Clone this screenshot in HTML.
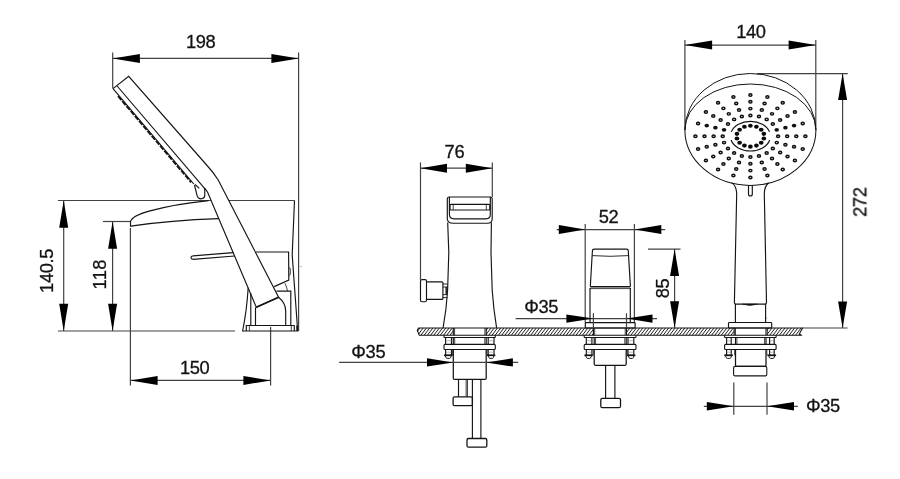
<!DOCTYPE html>
<html><head><meta charset="utf-8"><title>Faucet dimensions</title>
<style>html,body{margin:0;padding:0;background:#fff}svg{display:block}text{font-family:"Liberation Sans",sans-serif;fill:#111;stroke:#111;stroke-width:0.3px}</style>
</head><body>
<svg width="900" height="479" viewBox="0 0 900 479">
<rect width="900" height="479" fill="#fff"/>
<line x1="112.7" y1="52.5" x2="112.7" y2="88.5" stroke="#424242" stroke-width="1.2"/>
<line x1="298.6" y1="52.5" x2="298.6" y2="331" stroke="#424242" stroke-width="1.2"/>
<line x1="112.7" y1="58.4" x2="298.6" y2="58.4" stroke="#424242" stroke-width="1.2"/>
<polygon points="112.7,58.4 139.9,53.9 139.9,62.9" fill="#000"/>
<polygon points="298.6,58.4 271.4,53.9 271.4,62.9" fill="#000"/>
<line x1="58" y1="200.5" x2="211" y2="200.5" stroke="#424242" stroke-width="1.2"/>
<line x1="229" y1="200.5" x2="294.5" y2="200.5" stroke="#424242" stroke-width="1.2"/>
<line x1="58" y1="331" x2="235" y2="331" stroke="#424242" stroke-width="1.2"/>
<line x1="63.7" y1="200.5" x2="63.7" y2="331" stroke="#424242" stroke-width="1.2"/>
<polygon points="63.7,200.5 59.2,227.7 68.2,227.7" fill="#000"/>
<polygon points="63.7,331.0 59.2,303.8 68.2,303.8" fill="#000"/>
<line x1="103" y1="221.5" x2="130.4" y2="221.5" stroke="#424242" stroke-width="1.2"/>
<line x1="112.6" y1="221.5" x2="112.6" y2="331" stroke="#424242" stroke-width="1.2"/>
<polygon points="112.6,221.5 108.1,248.7 117.1,248.7" fill="#000"/>
<polygon points="112.6,331.0 108.1,303.8 117.1,303.8" fill="#000"/>
<line x1="130.4" y1="228" x2="130.4" y2="385.6" stroke="#424242" stroke-width="1.2"/>
<line x1="270.6" y1="327" x2="270.6" y2="385.6" stroke="#424242" stroke-width="1.2"/>
<line x1="130.4" y1="380.4" x2="270.6" y2="380.4" stroke="#424242" stroke-width="1.2"/>
<polygon points="130.4,380.4 157.6,375.9 157.6,384.9" fill="#000"/>
<polygon points="270.6,380.4 243.4,375.9 243.4,384.9" fill="#000"/>
<path d="M113,88.6 L128.7,76.3 L207.5,166 Q213.5,172.5 218.2,180 L278.6,297.2 L256.3,307.3 L207.5,192 Q205.5,189 203.5,187.2 L116.7,85.5" fill="none" stroke="#141414" stroke-width="1.15" />
<path d="M113,88.6 L193.8,184" fill="none" stroke="#141414" stroke-width="1.15" />
<path d="M256.3,307.3 L278.6,297.2" fill="none" stroke="#141414" stroke-width="1.6" />
<path d="M118.1,96.1 L191.1,182.3" fill="none" stroke="#161616" stroke-width="1.9" stroke-dasharray="5.2 1.3"/>
<path d="M194.5,185 L197.1,195.6 Q198,198.9 201.3,198.8 Q204.6,198.6 204.8,195.4 L204.7,188" fill="none" stroke="#141414" stroke-width="1.15" />
<path d="M195,184.3 L199.2,188.4" fill="none" stroke="#141414" stroke-width="1.15" />
<path d="M130.5,226.4 L130.5,221.7 C131.5,217.5 137,214.5 150,210.9 C165,206.8 185,203 208.5,200.6" fill="none" stroke="#141414" stroke-width="1.15" />
<path d="M130.5,226.4 L132.5,225.9 Q170,220.3 218.6,218.6" fill="none" stroke="#141414" stroke-width="1.15" />
<path d="M234.7,256 L193,259.3 Q191,259.2 191,257.6 Q191,256 193,255.9 L233.3,252.6" fill="none" stroke="#141414" stroke-width="1.15" />
<path d="M294.5,200.5 L292.2,255 L297.7,331" fill="none" stroke="#141414" stroke-width="1.15" />
<path d="M256,252 L288.6,252 L288.8,280.1 L274.2,286.6" fill="none" stroke="#141414" stroke-width="1.15" />
<path d="M288.9,267.5 L290.3,268.5 L290.3,274.5 L288.9,275.5" fill="none" stroke="#141414" stroke-width="0.8" />
<path d="M276.5,291.1 L290.8,291.1 L290.8,325.5" fill="none" stroke="#141414" stroke-width="1.15" />
<path d="M285,283.3 Q286.8,287 287.5,291.1" fill="none" stroke="#141414" stroke-width="0.8" />
<path d="M278.6,297.2 Q285.7,303 285.7,311 L285.7,325.5" fill="none" stroke="#141414" stroke-width="1.15" />
<path d="M248.2,287.8 Q246.6,312 242.6,331 L298.4,331" fill="none" stroke="#141414" stroke-width="1.15" />
<path d="M250.8,293.6 L250.8,325.5" fill="none" stroke="#141414" stroke-width="1.15" />
<path d="M255.5,307.3 L255.5,325.5" fill="none" stroke="#141414" stroke-width="1.15" />
<path d="M246.3,331 L246.3,325.5 L294.3,325.5 L294.3,331" fill="none" stroke="#141414" stroke-width="1.15" />
<line x1="249.4" y1="325.5" x2="249.4" y2="331" stroke="#141414" stroke-width="0.8"/>
<line x1="291.3" y1="325.5" x2="291.3" y2="331" stroke="#141414" stroke-width="0.8"/>
<line x1="296.6" y1="325.5" x2="296.6" y2="331" stroke="#141414" stroke-width="0.8"/>
<circle cx="301" cy="266.6" r="0.6" fill="#777"/>
<line x1="420.5" y1="162.4" x2="420.5" y2="279.7" stroke="#424242" stroke-width="1.2"/>
<line x1="492.3" y1="162.4" x2="492.3" y2="197" stroke="#424242" stroke-width="1.2"/>
<line x1="420.5" y1="168.2" x2="492.3" y2="168.2" stroke="#424242" stroke-width="1.2"/>
<polygon points="420.5,168.2 447.0,163.7 447.0,172.7" fill="#000"/>
<polygon points="492.3,168.2 465.8,163.7 465.8,172.7" fill="#000"/>
<path d="M447.3,219 L447.3,199 Q447.3,197 449.3,197 L490.2,197 Q492.2,197 492.2,199 L492.2,219 Q492,223.2 487.6,223.2 L453.2,223.2 Q447.6,223.2 447.3,219" fill="none" stroke="#141414" stroke-width="1.15" />
<path d="M449.4,197 L449.4,214.5 Q449.6,218.8 454,218.8 L486,218.8 Q490.2,218.8 490.3,214.5 L490.3,197" fill="none" stroke="#141414" stroke-width="1.15" />
<rect x="450" y="204.4" width="39.8" height="5.6" rx="1" fill="none" stroke="#141414" stroke-width="1.15"/>
<line x1="453.2" y1="204.4" x2="453.2" y2="210" stroke="#141414" stroke-width="0.8"/>
<line x1="486.3" y1="204.4" x2="486.3" y2="210" stroke="#141414" stroke-width="0.8"/>
<path d="M447.7,222.5 L448.8,252.6 L447.6,290.2 Q446.6,308 443.1,327.9" fill="none" stroke="#141414" stroke-width="1.15" />
<path d="M491.4,222.5 L491,252.6 L492.2,290.2 Q493.4,308 496.6,327.9" fill="none" stroke="#141414" stroke-width="1.15" />
<rect x="420.5" y="279.6" width="6.0" height="22.1" rx="1.5" fill="none" stroke="#141414" stroke-width="1.15"/>
<path d="M426.5,281.8 L441.9,281.8 Q442.9,281.8 442.9,282.8 L442.9,298.4 Q442.9,299.4 441.9,299.4 L426.5,299.4" fill="none" stroke="#141414" stroke-width="1.15" />
<path d="M442.9,284 L447.5,284 M442.9,297.6 L447.5,297.6 M442.9,287 L447.5,287 M442.9,294.6 L447.5,294.6" fill="none" stroke="#141414" stroke-width="0.9" />
<line x1="446.2" y1="287" x2="446.2" y2="294.6" stroke="#141414" stroke-width="1.4"/>
<clipPath id="dk"><path d="M418.6,328.0 L453.3,328.0 L453.3,335.25 L419.3,335.25 L417.3,330.4 Z M486.2,328.0 L593.4,328.0 L593.4,335.25 L486.2,335.25 Z M626.5,328.0 L734.2,328.0 L734.2,335.25 L626.5,335.25 Z M767.1,328.0 L802.6,328.0 L799.5,333.6 L801.2,335.25 L767.1,335.25 Z"/></clipPath>
<g clip-path="url(#dk)"><path d="M410.82,335.75 L417.09,327.5 M414.05,335.75 L420.32,327.5 M417.28,335.75 L423.55,327.5 M420.51,335.75 L426.78,327.5 M423.74,335.75 L430.01,327.5 M426.97,335.75 L433.24,327.5 M430.20,335.75 L436.47,327.5 M433.43,335.75 L439.70,327.5 M436.66,335.75 L442.93,327.5 M439.89,335.75 L446.16,327.5 M443.12,335.75 L449.39,327.5 M446.35,335.75 L452.62,327.5 M449.58,335.75 L455.85,327.5 M481.88,335.75 L488.15,327.5 M485.11,335.75 L491.38,327.5 M488.34,335.75 L494.61,327.5 M491.57,335.75 L497.84,327.5 M494.80,335.75 L501.07,327.5 M498.03,335.75 L504.30,327.5 M501.26,335.75 L507.53,327.5 M504.49,335.75 L510.76,327.5 M507.72,335.75 L513.99,327.5 M510.95,335.75 L517.22,327.5 M514.18,335.75 L520.45,327.5 M517.41,335.75 L523.68,327.5 M520.64,335.75 L526.91,327.5 M523.87,335.75 L530.14,327.5 M527.10,335.75 L533.37,327.5 M530.33,335.75 L536.60,327.5 M533.56,335.75 L539.83,327.5 M536.79,335.75 L543.06,327.5 M540.02,335.75 L546.29,327.5 M543.25,335.75 L549.52,327.5 M546.48,335.75 L552.75,327.5 M549.71,335.75 L555.98,327.5 M552.94,335.75 L559.21,327.5 M556.17,335.75 L562.44,327.5 M559.40,335.75 L565.67,327.5 M562.63,335.75 L568.90,327.5 M565.86,335.75 L572.13,327.5 M569.09,335.75 L575.36,327.5 M572.32,335.75 L578.59,327.5 M575.55,335.75 L581.82,327.5 M578.78,335.75 L585.05,327.5 M582.01,335.75 L588.28,327.5 M585.24,335.75 L591.51,327.5 M588.47,335.75 L594.74,327.5 M591.70,335.75 L597.97,327.5 M624.00,335.75 L630.27,327.5 M627.23,335.75 L633.50,327.5 M630.46,335.75 L636.73,327.5 M633.69,335.75 L639.96,327.5 M636.92,335.75 L643.19,327.5 M640.15,335.75 L646.42,327.5 M643.38,335.75 L649.65,327.5 M646.61,335.75 L652.88,327.5 M649.84,335.75 L656.11,327.5 M653.07,335.75 L659.34,327.5 M656.30,335.75 L662.57,327.5 M659.53,335.75 L665.80,327.5 M662.76,335.75 L669.03,327.5 M665.99,335.75 L672.26,327.5 M669.22,335.75 L675.49,327.5 M672.45,335.75 L678.72,327.5 M675.68,335.75 L681.95,327.5 M678.91,335.75 L685.18,327.5 M682.14,335.75 L688.41,327.5 M685.37,335.75 L691.64,327.5 M688.60,335.75 L694.87,327.5 M691.83,335.75 L698.10,327.5 M695.06,335.75 L701.33,327.5 M698.29,335.75 L704.56,327.5 M701.52,335.75 L707.79,327.5 M704.75,335.75 L711.02,327.5 M707.98,335.75 L714.25,327.5 M711.21,335.75 L717.48,327.5 M714.44,335.75 L720.71,327.5 M717.67,335.75 L723.94,327.5 M720.90,335.75 L727.17,327.5 M724.13,335.75 L730.40,327.5 M727.36,335.75 L733.63,327.5 M730.59,335.75 L736.86,327.5 M762.89,335.75 L769.16,327.5 M766.12,335.75 L772.39,327.5 M769.35,335.75 L775.62,327.5 M772.58,335.75 L778.85,327.5 M775.81,335.75 L782.08,327.5 M779.04,335.75 L785.31,327.5 M782.27,335.75 L788.54,327.5 M785.50,335.75 L791.77,327.5 M788.73,335.75 L795.00,327.5 M791.96,335.75 L798.23,327.5 M795.19,335.75 L801.46,327.5 M798.42,335.75 L804.69,327.5 M801.65,335.75 L807.92,327.5 M804.88,335.75 L811.15,327.5 M808.11,335.75 L814.38,327.5 M811.34,335.75 L817.61,327.5" stroke="#1a1a1a" stroke-width="0.98" fill="none"/></g>
<path d="M419.3,335.25 L417.3,330.4 L418.6,328.0 L802.6,328.0 L799.5,333.6 L801.2,335.25 Z" fill="none" stroke="#141414" stroke-width="1.1" />
<line x1="802.6" y1="328.0" x2="847.6" y2="328.0" stroke="#424242" stroke-width="1.2"/>
<line x1="453.3" y1="328.0" x2="453.3" y2="335.25" stroke="#141414" stroke-width="1.15"/>
<line x1="486.2" y1="328.0" x2="486.2" y2="335.25" stroke="#141414" stroke-width="1.15"/>
<line x1="454.6" y1="328.0" x2="454.6" y2="335.25" stroke="#141414" stroke-width="0.8"/>
<line x1="484.9" y1="328.0" x2="484.9" y2="335.25" stroke="#141414" stroke-width="0.8"/>
<path d="M444,335.25 L444,336.9 Q444,337.5 444.6,337.5 L494.7,337.5 Q495.3,337.5 495.3,336.9 L495.3,335.25" fill="none" stroke="#141414" stroke-width="1.1" />
<line x1="445.6" y1="337.5" x2="445.6" y2="344.4" stroke="#141414" stroke-width="1.15"/>
<line x1="451.5" y1="337.5" x2="451.5" y2="344.4" stroke="#141414" stroke-width="1.15"/>
<line x1="445.6" y1="349.5" x2="445.6" y2="355.3" stroke="#141414" stroke-width="1.15"/>
<line x1="451.5" y1="349.5" x2="451.5" y2="355.3" stroke="#141414" stroke-width="1.15"/>
<line x1="445.6" y1="340.8" x2="451.5" y2="340.8" stroke="#777" stroke-width="0.5"/>
<line x1="445.6" y1="352.2" x2="451.5" y2="352.2" stroke="#777" stroke-width="0.5"/>
<line x1="488.2" y1="337.5" x2="488.2" y2="344.4" stroke="#141414" stroke-width="1.15"/>
<line x1="494" y1="337.5" x2="494" y2="344.4" stroke="#141414" stroke-width="1.15"/>
<line x1="488.2" y1="349.5" x2="488.2" y2="355.3" stroke="#141414" stroke-width="1.15"/>
<line x1="494" y1="349.5" x2="494" y2="355.3" stroke="#141414" stroke-width="1.15"/>
<line x1="488.2" y1="340.8" x2="494" y2="340.8" stroke="#777" stroke-width="0.5"/>
<line x1="488.2" y1="352.2" x2="494" y2="352.2" stroke="#777" stroke-width="0.5"/>
<rect x="444" y="344.4" width="51.3" height="5.1" rx="1.0" fill="none" stroke="#141414" stroke-width="1.1"/>
<path d="M445.3,355.3 Q445.6,358.40000000000003 447.1,358.40000000000003 L449.5,358.40000000000003 Q451.0,358.40000000000003 451.3,355.3 Z" fill="none" stroke="#141414" stroke-width="1.0" fill="#a8a8a8"/>
<line x1="444" y1="355.3" x2="452.6" y2="355.3" stroke="#141414" stroke-width="1.7"/>
<path d="M488.3,355.3 Q488.6,358.40000000000003 489.95,358.40000000000003 L492.34999999999997,358.40000000000003 Q493.7,358.40000000000003 494.0,355.3 Z" fill="none" stroke="#141414" stroke-width="1.0" fill="#a8a8a8"/>
<line x1="487" y1="355.3" x2="495.3" y2="355.3" stroke="#141414" stroke-width="1.7"/>
<line x1="453.3" y1="337.5" x2="453.3" y2="344.4" stroke="#141414" stroke-width="1.15"/>
<line x1="486.2" y1="337.5" x2="486.2" y2="344.4" stroke="#141414" stroke-width="1.15"/>
<line x1="454.7" y1="337.5" x2="454.7" y2="344.4" stroke="#141414" stroke-width="0.8"/>
<line x1="484.8" y1="337.5" x2="484.8" y2="344.4" stroke="#141414" stroke-width="0.8"/>
<line x1="452.40000000000003" y1="349.5" x2="452.40000000000003" y2="355.3" stroke="#141414" stroke-width="0.7"/>
<line x1="487.09999999999997" y1="349.5" x2="487.09999999999997" y2="355.3" stroke="#141414" stroke-width="0.7"/>
<path d="M453.3,349.5 L453.3,378.2 Q453.3,379.4 454.5,379.4 L485.0,379.4 Q486.2,379.4 486.2,378.2 L486.2,349.5" fill="none" stroke="#141414" stroke-width="1.25" />
<line x1="339.1" y1="362.4" x2="518.2" y2="362.4" stroke="#424242" stroke-width="1.2"/>
<polygon points="453.3,362.4 427.0,358.2 427.0,366.6" fill="#000"/>
<polygon points="486.2,362.4 512.9,358.2 512.9,366.6" fill="#000"/>
<line x1="458.5" y1="379.4" x2="458.5" y2="396.8" stroke="#141414" stroke-width="1.15"/>
<line x1="467.2" y1="379.4" x2="467.2" y2="396.8" stroke="#141414" stroke-width="1.15"/>
<line x1="466" y1="379.4" x2="466" y2="396.8" stroke="#141414" stroke-width="0.6"/>
<rect x="453.1" y="396.8" width="19.3" height="8.9" rx="1.5" fill="none" stroke="#141414" stroke-width="1.3"/>
<line x1="472.4" y1="379.4" x2="472.4" y2="438.5" stroke="#141414" stroke-width="1.15"/>
<line x1="480.9" y1="379.4" x2="480.9" y2="438.5" stroke="#141414" stroke-width="1.15"/>
<rect x="467" y="438.5" width="19.8" height="8.7" rx="1.5" fill="none" stroke="#141414" stroke-width="1.3"/>
<line x1="585.2" y1="224" x2="585.2" y2="322.6" stroke="#424242" stroke-width="1.2"/>
<line x1="634.4" y1="224" x2="634.4" y2="322.6" stroke="#424242" stroke-width="1.2"/>
<line x1="556.7" y1="229.6" x2="665.2" y2="229.6" stroke="#424242" stroke-width="1.2"/>
<polygon points="585.2,229.6 558.8,225.1 558.8,234.1" fill="#000"/>
<polygon points="634.4,229.6 661.3,225.1 661.3,234.1" fill="#000"/>
<path d="M590.3,286.6 L592.4,251 Q592.4,249.1 594.4,249.1 L626.3,249.1 Q628.3,249.1 628.3,251 L630.4,286.6" fill="none" stroke="#141414" stroke-width="1.15" />
<path d="M592.2,255.6 Q610,257 628.5,255.6" fill="none" stroke="#141414" stroke-width="0.9" />
<line x1="590.3" y1="286.8" x2="630.4" y2="286.8" stroke="#141414" stroke-width="1.6"/>
<path d="M590,288 L590,322.6 M630.3,288 L630.3,322.6" fill="none" stroke="#141414" stroke-width="1.15" />
<line x1="590" y1="288.6" x2="630.3" y2="288.6" stroke="#141414" stroke-width="0.8"/>
<rect x="585.3" y="322.6" width="49.8" height="5.4" rx="0.5" fill="none" stroke="#141414" stroke-width="1.15"/>
<line x1="593.4" y1="313.2" x2="593.4" y2="328.0" stroke="#424242" stroke-width="1.2"/>
<line x1="626.5" y1="313.2" x2="626.5" y2="328.0" stroke="#424242" stroke-width="1.2"/>
<line x1="515.6" y1="318.6" x2="657" y2="318.6" stroke="#424242" stroke-width="1.2"/>
<polygon points="593.4,318.6 566.4,314.4 566.4,322.8" fill="#000"/>
<polygon points="626.5,318.6 652.5,314.4 652.5,322.8" fill="#000"/>
<line x1="593.4" y1="328.0" x2="593.4" y2="335.25" stroke="#141414" stroke-width="1.15"/>
<line x1="626.5" y1="328.0" x2="626.5" y2="335.25" stroke="#141414" stroke-width="1.15"/>
<line x1="594.6999999999999" y1="328.0" x2="594.6999999999999" y2="335.25" stroke="#141414" stroke-width="0.8"/>
<line x1="625.2" y1="328.0" x2="625.2" y2="335.25" stroke="#141414" stroke-width="0.8"/>
<path d="M584.2,335.25 L584.2,336.9 Q584.2,337.5 584.8000000000001,337.5 L635.4,337.5 Q636,337.5 636,336.9 L636,335.25" fill="none" stroke="#141414" stroke-width="1.1" />
<line x1="586.3" y1="337.5" x2="586.3" y2="344.4" stroke="#141414" stroke-width="1.15"/>
<line x1="591.9" y1="337.5" x2="591.9" y2="344.4" stroke="#141414" stroke-width="1.15"/>
<line x1="586.3" y1="349.5" x2="586.3" y2="355.3" stroke="#141414" stroke-width="1.15"/>
<line x1="591.9" y1="349.5" x2="591.9" y2="355.3" stroke="#141414" stroke-width="1.15"/>
<line x1="586.3" y1="340.8" x2="591.9" y2="340.8" stroke="#777" stroke-width="0.5"/>
<line x1="586.3" y1="352.2" x2="591.9" y2="352.2" stroke="#777" stroke-width="0.5"/>
<line x1="628" y1="337.5" x2="628" y2="344.4" stroke="#141414" stroke-width="1.15"/>
<line x1="633.8" y1="337.5" x2="633.8" y2="344.4" stroke="#141414" stroke-width="1.15"/>
<line x1="628" y1="349.5" x2="628" y2="355.3" stroke="#141414" stroke-width="1.15"/>
<line x1="633.8" y1="349.5" x2="633.8" y2="355.3" stroke="#141414" stroke-width="1.15"/>
<line x1="628" y1="340.8" x2="633.8" y2="340.8" stroke="#777" stroke-width="0.5"/>
<line x1="628" y1="352.2" x2="633.8" y2="352.2" stroke="#777" stroke-width="0.5"/>
<rect x="584.2" y="344.4" width="51.8" height="5.1" rx="1.0" fill="none" stroke="#141414" stroke-width="1.1"/>
<path d="M585.6999999999999,355.3 Q586.0,358.40000000000003 587.3999999999999,358.40000000000003 L589.8,358.40000000000003 Q591.1999999999999,358.40000000000003 591.5,355.3 Z" fill="none" stroke="#141414" stroke-width="1.0" fill="#a8a8a8"/>
<line x1="584.4" y1="355.3" x2="592.8" y2="355.3" stroke="#141414" stroke-width="1.7"/>
<path d="M628.3,355.3 Q628.6,358.40000000000003 630.0,358.40000000000003 L632.4000000000001,358.40000000000003 Q633.8,358.40000000000003 634.1,355.3 Z" fill="none" stroke="#141414" stroke-width="1.0" fill="#a8a8a8"/>
<line x1="627" y1="355.3" x2="635.4" y2="355.3" stroke="#141414" stroke-width="1.7"/>
<line x1="594.2" y1="337.5" x2="594.2" y2="344.4" stroke="#141414" stroke-width="1.15"/>
<line x1="626.2" y1="337.5" x2="626.2" y2="344.4" stroke="#141414" stroke-width="1.15"/>
<line x1="595.6" y1="337.5" x2="595.6" y2="344.4" stroke="#141414" stroke-width="0.8"/>
<line x1="624.8000000000001" y1="337.5" x2="624.8000000000001" y2="344.4" stroke="#141414" stroke-width="0.8"/>
<line x1="593.3000000000001" y1="349.5" x2="593.3000000000001" y2="355.3" stroke="#141414" stroke-width="0.7"/>
<line x1="627.1" y1="349.5" x2="627.1" y2="355.3" stroke="#141414" stroke-width="0.7"/>
<path d="M594.2,349.5 L594.2,364.1 Q594.2,365.3 595.4000000000001,365.3 L625.0,365.3 Q626.2,365.3 626.2,364.1 L626.2,349.5" fill="none" stroke="#141414" stroke-width="1.25" />
<line x1="605.6" y1="365.3" x2="605.6" y2="398.3" stroke="#141414" stroke-width="1.15"/>
<line x1="614.9" y1="365.3" x2="614.9" y2="398.3" stroke="#141414" stroke-width="1.15"/>
<rect x="600.8" y="398.3" width="19.7" height="9.4" rx="1.5" fill="none" stroke="#141414" stroke-width="1.3"/>
<line x1="648" y1="249.1" x2="680.5" y2="249.1" stroke="#424242" stroke-width="1.2"/>
<line x1="674.6" y1="249.1" x2="674.6" y2="328.0" stroke="#424242" stroke-width="1.2"/>
<polygon points="674.6,249.1 670.1,275.9 679.1,275.9" fill="#000"/>
<polygon points="674.6,328.0 670.1,301.2 679.1,301.2" fill="#000"/>
<line x1="684.9" y1="40" x2="684.9" y2="130" stroke="#424242" stroke-width="1.2"/>
<line x1="815.8" y1="40" x2="815.8" y2="130" stroke="#424242" stroke-width="1.2"/>
<line x1="684.9" y1="45.1" x2="815.8" y2="45.1" stroke="#424242" stroke-width="1.2"/>
<polygon points="684.9,45.1 712.1,40.6 712.1,49.6" fill="#000"/>
<polygon points="815.8,45.1 788.6,40.6 788.6,49.6" fill="#000"/>
<line x1="757" y1="73.6" x2="847.8" y2="73.6" stroke="#424242" stroke-width="1.2"/>
<line x1="842.6" y1="73.6" x2="842.6" y2="328.0" stroke="#424242" stroke-width="1.2"/>
<polygon points="842.6,73.6 838.1,100.1 847.1,100.1" fill="#000"/>
<polygon points="842.6,328.0 838.1,301.5 847.1,301.5" fill="#000"/>
<path d="M684.9,130.0 A65.5,56.5 0 0 1 815.9,130.0" fill="none" stroke="#141414" stroke-width="1.0" />
<path d="M684.9,130.0 A65.5,46 0 0 1 815.9,130.0" fill="none" stroke="#141414" stroke-width="1.0" />
<path d="M684.9,130.0 A65.5,55.4 0 0 0 815.9,130.0" fill="none" stroke="#141414" stroke-width="1.05" />
<ellipse cx="750.40" cy="115.42" rx="1.55" ry="1.25" fill="#cdcdcd" stroke="#111" stroke-width="1.45"/>
<ellipse cx="750.40" cy="108.60" rx="1.55" ry="1.25" fill="#cdcdcd" stroke="#111" stroke-width="1.45"/>
<ellipse cx="750.40" cy="101.77" rx="1.55" ry="1.25" fill="#cdcdcd" stroke="#111" stroke-width="1.45"/>
<ellipse cx="750.40" cy="94.95" rx="1.55" ry="1.25" fill="#cdcdcd" stroke="#111" stroke-width="1.45"/>
<ellipse cx="741.84" cy="116.44" rx="1.55" ry="1.25" fill="#cdcdcd" stroke="#111" stroke-width="1.45"/>
<ellipse cx="739.03" cy="109.95" rx="1.55" ry="1.25" fill="#cdcdcd" stroke="#111" stroke-width="1.45"/>
<ellipse cx="736.22" cy="103.46" rx="1.55" ry="1.25" fill="#cdcdcd" stroke="#111" stroke-width="1.45"/>
<ellipse cx="733.40" cy="96.97" rx="1.55" ry="1.25" fill="#cdcdcd" stroke="#111" stroke-width="1.45"/>
<ellipse cx="734.12" cy="119.39" rx="1.55" ry="1.25" fill="#cdcdcd" stroke="#111" stroke-width="1.45"/>
<ellipse cx="728.77" cy="113.87" rx="1.55" ry="1.25" fill="#cdcdcd" stroke="#111" stroke-width="1.45"/>
<ellipse cx="723.42" cy="108.35" rx="1.55" ry="1.25" fill="#cdcdcd" stroke="#111" stroke-width="1.45"/>
<ellipse cx="718.07" cy="102.83" rx="1.55" ry="1.25" fill="#cdcdcd" stroke="#111" stroke-width="1.45"/>
<ellipse cx="727.99" cy="123.99" rx="1.55" ry="1.25" fill="#cdcdcd" stroke="#111" stroke-width="1.45"/>
<ellipse cx="720.63" cy="119.98" rx="1.55" ry="1.25" fill="#cdcdcd" stroke="#111" stroke-width="1.45"/>
<ellipse cx="713.27" cy="115.97" rx="1.55" ry="1.25" fill="#cdcdcd" stroke="#111" stroke-width="1.45"/>
<ellipse cx="705.90" cy="111.95" rx="1.55" ry="1.25" fill="#cdcdcd" stroke="#111" stroke-width="1.45"/>
<ellipse cx="724.06" cy="129.78" rx="2.25" ry="1.85" fill="#111"/>
<ellipse cx="715.40" cy="127.67" rx="2.25" ry="1.85" fill="#111"/>
<ellipse cx="706.75" cy="125.56" rx="2.25" ry="1.85" fill="#111"/>
<ellipse cx="698.09" cy="123.45" rx="1.55" ry="1.25" fill="#cdcdcd" stroke="#111" stroke-width="1.45"/>
<ellipse cx="722.70" cy="136.20" rx="1.55" ry="1.25" fill="#cdcdcd" stroke="#111" stroke-width="1.45"/>
<ellipse cx="713.60" cy="136.20" rx="1.55" ry="1.25" fill="#cdcdcd" stroke="#111" stroke-width="1.45"/>
<ellipse cx="704.50" cy="136.20" rx="1.55" ry="1.25" fill="#cdcdcd" stroke="#111" stroke-width="1.45"/>
<ellipse cx="695.40" cy="136.20" rx="1.55" ry="1.25" fill="#cdcdcd" stroke="#111" stroke-width="1.45"/>
<ellipse cx="724.06" cy="142.62" rx="1.55" ry="1.25" fill="#cdcdcd" stroke="#111" stroke-width="1.45"/>
<ellipse cx="715.40" cy="144.73" rx="1.55" ry="1.25" fill="#cdcdcd" stroke="#111" stroke-width="1.45"/>
<ellipse cx="706.75" cy="146.84" rx="1.55" ry="1.25" fill="#cdcdcd" stroke="#111" stroke-width="1.45"/>
<ellipse cx="698.09" cy="148.95" rx="1.55" ry="1.25" fill="#cdcdcd" stroke="#111" stroke-width="1.45"/>
<ellipse cx="727.99" cy="148.41" rx="1.55" ry="1.25" fill="#cdcdcd" stroke="#111" stroke-width="1.45"/>
<ellipse cx="720.63" cy="152.42" rx="1.55" ry="1.25" fill="#cdcdcd" stroke="#111" stroke-width="1.45"/>
<ellipse cx="713.27" cy="156.43" rx="1.55" ry="1.25" fill="#cdcdcd" stroke="#111" stroke-width="1.45"/>
<ellipse cx="705.90" cy="160.45" rx="1.55" ry="1.25" fill="#cdcdcd" stroke="#111" stroke-width="1.45"/>
<ellipse cx="734.12" cy="153.01" rx="1.55" ry="1.25" fill="#cdcdcd" stroke="#111" stroke-width="1.45"/>
<ellipse cx="728.77" cy="158.53" rx="1.55" ry="1.25" fill="#cdcdcd" stroke="#111" stroke-width="1.45"/>
<ellipse cx="723.42" cy="164.05" rx="1.55" ry="1.25" fill="#cdcdcd" stroke="#111" stroke-width="1.45"/>
<ellipse cx="718.07" cy="169.57" rx="1.55" ry="1.25" fill="#cdcdcd" stroke="#111" stroke-width="1.45"/>
<ellipse cx="741.84" cy="155.96" rx="1.55" ry="1.25" fill="#cdcdcd" stroke="#111" stroke-width="1.45"/>
<ellipse cx="739.03" cy="162.45" rx="1.55" ry="1.25" fill="#cdcdcd" stroke="#111" stroke-width="1.45"/>
<ellipse cx="736.22" cy="168.94" rx="1.55" ry="1.25" fill="#cdcdcd" stroke="#111" stroke-width="1.45"/>
<ellipse cx="733.40" cy="175.43" rx="1.55" ry="1.25" fill="#cdcdcd" stroke="#111" stroke-width="1.45"/>
<ellipse cx="750.40" cy="156.97" rx="1.55" ry="1.25" fill="#cdcdcd" stroke="#111" stroke-width="1.45"/>
<ellipse cx="750.40" cy="163.80" rx="1.55" ry="1.25" fill="#cdcdcd" stroke="#111" stroke-width="1.45"/>
<ellipse cx="750.40" cy="170.62" rx="1.55" ry="1.25" fill="#cdcdcd" stroke="#111" stroke-width="1.45"/>
<ellipse cx="750.40" cy="177.45" rx="1.55" ry="1.25" fill="#cdcdcd" stroke="#111" stroke-width="1.45"/>
<ellipse cx="758.96" cy="155.96" rx="1.55" ry="1.25" fill="#cdcdcd" stroke="#111" stroke-width="1.45"/>
<ellipse cx="761.77" cy="162.45" rx="1.55" ry="1.25" fill="#cdcdcd" stroke="#111" stroke-width="1.45"/>
<ellipse cx="764.58" cy="168.94" rx="1.55" ry="1.25" fill="#cdcdcd" stroke="#111" stroke-width="1.45"/>
<ellipse cx="767.40" cy="175.43" rx="1.55" ry="1.25" fill="#cdcdcd" stroke="#111" stroke-width="1.45"/>
<ellipse cx="766.68" cy="153.01" rx="1.55" ry="1.25" fill="#cdcdcd" stroke="#111" stroke-width="1.45"/>
<ellipse cx="772.03" cy="158.53" rx="1.55" ry="1.25" fill="#cdcdcd" stroke="#111" stroke-width="1.45"/>
<ellipse cx="777.38" cy="164.05" rx="1.55" ry="1.25" fill="#cdcdcd" stroke="#111" stroke-width="1.45"/>
<ellipse cx="782.73" cy="169.57" rx="1.55" ry="1.25" fill="#cdcdcd" stroke="#111" stroke-width="1.45"/>
<ellipse cx="772.81" cy="148.41" rx="1.55" ry="1.25" fill="#cdcdcd" stroke="#111" stroke-width="1.45"/>
<ellipse cx="780.17" cy="152.42" rx="1.55" ry="1.25" fill="#cdcdcd" stroke="#111" stroke-width="1.45"/>
<ellipse cx="787.53" cy="156.43" rx="1.55" ry="1.25" fill="#cdcdcd" stroke="#111" stroke-width="1.45"/>
<ellipse cx="794.90" cy="160.45" rx="1.55" ry="1.25" fill="#cdcdcd" stroke="#111" stroke-width="1.45"/>
<ellipse cx="776.74" cy="142.62" rx="1.55" ry="1.25" fill="#cdcdcd" stroke="#111" stroke-width="1.45"/>
<ellipse cx="785.40" cy="144.73" rx="1.55" ry="1.25" fill="#cdcdcd" stroke="#111" stroke-width="1.45"/>
<ellipse cx="794.05" cy="146.84" rx="1.55" ry="1.25" fill="#cdcdcd" stroke="#111" stroke-width="1.45"/>
<ellipse cx="802.71" cy="148.95" rx="1.55" ry="1.25" fill="#cdcdcd" stroke="#111" stroke-width="1.45"/>
<ellipse cx="778.10" cy="136.20" rx="1.55" ry="1.25" fill="#cdcdcd" stroke="#111" stroke-width="1.45"/>
<ellipse cx="787.20" cy="136.20" rx="1.55" ry="1.25" fill="#cdcdcd" stroke="#111" stroke-width="1.45"/>
<ellipse cx="796.30" cy="136.20" rx="1.55" ry="1.25" fill="#cdcdcd" stroke="#111" stroke-width="1.45"/>
<ellipse cx="805.40" cy="136.20" rx="1.55" ry="1.25" fill="#cdcdcd" stroke="#111" stroke-width="1.45"/>
<ellipse cx="776.74" cy="129.78" rx="2.25" ry="1.85" fill="#111"/>
<ellipse cx="785.40" cy="127.67" rx="2.25" ry="1.85" fill="#111"/>
<ellipse cx="794.05" cy="125.56" rx="2.25" ry="1.85" fill="#111"/>
<ellipse cx="802.71" cy="123.45" rx="1.55" ry="1.25" fill="#cdcdcd" stroke="#111" stroke-width="1.45"/>
<ellipse cx="772.81" cy="123.99" rx="1.55" ry="1.25" fill="#cdcdcd" stroke="#111" stroke-width="1.45"/>
<ellipse cx="780.17" cy="119.98" rx="1.55" ry="1.25" fill="#cdcdcd" stroke="#111" stroke-width="1.45"/>
<ellipse cx="787.53" cy="115.97" rx="1.55" ry="1.25" fill="#cdcdcd" stroke="#111" stroke-width="1.45"/>
<ellipse cx="794.90" cy="111.95" rx="1.55" ry="1.25" fill="#cdcdcd" stroke="#111" stroke-width="1.45"/>
<ellipse cx="766.68" cy="119.39" rx="1.55" ry="1.25" fill="#cdcdcd" stroke="#111" stroke-width="1.45"/>
<ellipse cx="772.03" cy="113.87" rx="1.55" ry="1.25" fill="#cdcdcd" stroke="#111" stroke-width="1.45"/>
<ellipse cx="777.38" cy="108.35" rx="1.55" ry="1.25" fill="#cdcdcd" stroke="#111" stroke-width="1.45"/>
<ellipse cx="782.73" cy="102.83" rx="1.55" ry="1.25" fill="#cdcdcd" stroke="#111" stroke-width="1.45"/>
<ellipse cx="758.96" cy="116.44" rx="1.55" ry="1.25" fill="#cdcdcd" stroke="#111" stroke-width="1.45"/>
<ellipse cx="761.77" cy="109.95" rx="1.55" ry="1.25" fill="#cdcdcd" stroke="#111" stroke-width="1.45"/>
<ellipse cx="764.58" cy="103.46" rx="1.55" ry="1.25" fill="#cdcdcd" stroke="#111" stroke-width="1.45"/>
<ellipse cx="767.40" cy="96.97" rx="1.55" ry="1.25" fill="#cdcdcd" stroke="#111" stroke-width="1.45"/>
<ellipse cx="750.40" cy="125.75" rx="2.35" ry="2.05" fill="#0a0a0a"/>
<ellipse cx="744.41" cy="126.78" rx="2.35" ry="2.05" fill="#0a0a0a"/>
<ellipse cx="739.61" cy="129.68" rx="2.35" ry="2.05" fill="#0a0a0a"/>
<ellipse cx="736.95" cy="133.87" rx="2.35" ry="2.05" fill="#0a0a0a"/>
<ellipse cx="736.95" cy="138.53" rx="2.35" ry="2.05" fill="#0a0a0a"/>
<ellipse cx="739.61" cy="142.72" rx="2.35" ry="2.05" fill="#0a0a0a"/>
<ellipse cx="744.41" cy="145.62" rx="2.35" ry="2.05" fill="#0a0a0a"/>
<ellipse cx="750.40" cy="146.65" rx="2.35" ry="2.05" fill="#0a0a0a"/>
<ellipse cx="756.39" cy="145.62" rx="2.35" ry="2.05" fill="#0a0a0a"/>
<ellipse cx="761.19" cy="142.72" rx="2.35" ry="2.05" fill="#0a0a0a"/>
<ellipse cx="763.85" cy="138.53" rx="2.35" ry="2.05" fill="#0a0a0a"/>
<ellipse cx="763.85" cy="133.87" rx="2.35" ry="2.05" fill="#0a0a0a"/>
<ellipse cx="761.19" cy="129.68" rx="2.35" ry="2.05" fill="#0a0a0a"/>
<ellipse cx="756.39" cy="126.78" rx="2.35" ry="2.05" fill="#0a0a0a"/>
<path d="M769.53,131.87 A20,14.8 0 0 0 731.27,131.87" fill="none" stroke="#141414" stroke-width="1.15" />
<path d="M731.08,140.03 A20,14.8 0 0 0 769.72,140.03" fill="none" stroke="#141414" stroke-width="1.15" />
<path d="M731.7,182.6 Q736.4,186 736.7,193.4 L734.4,302.5 Q734.4,304.1 736,304.1 L764.9,304.1 Q766.5,304.1 766.5,302.5 L764.3,193.4 Q764.6,186 768.6,183" fill="none" stroke="#141414" stroke-width="1.15" />
<path d="M748.5,185.3 L748.5,194 Q748.5,196 750.4,196 Q752.3,196 752.3,194 L752.3,185.3" fill="none" stroke="#141414" stroke-width="1.15" />
<path d="M742.5,304.1 Q750,306.9 757.4,304.1 Z" fill="#141414" stroke="#141414" stroke-width="0.6"/>
<path d="M735.4,304 L735.4,322.5 M765.6,304 L765.6,322.5" fill="none" stroke="#141414" stroke-width="1.15" />
<rect x="728.5" y="322.5" width="43.2" height="5.5" rx="0.8" fill="none" stroke="#141414" stroke-width="1.15"/>
<circle cx="766.9" cy="318" r="0.5" fill="#777"/>
<line x1="734.2" y1="328.0" x2="734.2" y2="335.25" stroke="#141414" stroke-width="1.15"/>
<line x1="767.1" y1="328.0" x2="767.1" y2="335.25" stroke="#141414" stroke-width="1.15"/>
<line x1="735.5" y1="328.0" x2="735.5" y2="335.25" stroke="#141414" stroke-width="0.8"/>
<line x1="765.8000000000001" y1="328.0" x2="765.8000000000001" y2="335.25" stroke="#141414" stroke-width="0.8"/>
<path d="M724.6,335.25 L724.6,336.9 Q724.6,337.5 725.2,337.5 L775.5,337.5 Q776.1,337.5 776.1,336.9 L776.1,335.25" fill="none" stroke="#141414" stroke-width="1.1" />
<line x1="726.6" y1="337.5" x2="726.6" y2="344.4" stroke="#141414" stroke-width="1.15"/>
<line x1="731.2" y1="337.5" x2="731.2" y2="344.4" stroke="#141414" stroke-width="1.15"/>
<line x1="726.6" y1="349.5" x2="726.6" y2="355.3" stroke="#141414" stroke-width="1.15"/>
<line x1="731.2" y1="349.5" x2="731.2" y2="355.3" stroke="#141414" stroke-width="1.15"/>
<line x1="726.6" y1="340.8" x2="731.2" y2="340.8" stroke="#777" stroke-width="0.5"/>
<line x1="726.6" y1="352.2" x2="731.2" y2="352.2" stroke="#777" stroke-width="0.5"/>
<line x1="769.6" y1="337.5" x2="769.6" y2="344.4" stroke="#141414" stroke-width="1.15"/>
<line x1="774.2" y1="337.5" x2="774.2" y2="344.4" stroke="#141414" stroke-width="1.15"/>
<line x1="769.6" y1="349.5" x2="769.6" y2="355.3" stroke="#141414" stroke-width="1.15"/>
<line x1="774.2" y1="349.5" x2="774.2" y2="355.3" stroke="#141414" stroke-width="1.15"/>
<line x1="769.6" y1="340.8" x2="774.2" y2="340.8" stroke="#777" stroke-width="0.5"/>
<line x1="769.6" y1="352.2" x2="774.2" y2="352.2" stroke="#777" stroke-width="0.5"/>
<rect x="724.6" y="344.4" width="51.5" height="5.1" rx="1.0" fill="none" stroke="#141414" stroke-width="1.1"/>
<path d="M725.5,355.3 Q725.8000000000001,358.40000000000003 727.3499999999999,358.40000000000003 L729.75,358.40000000000003 Q731.3,358.40000000000003 731.6,355.3 Z" fill="none" stroke="#141414" stroke-width="1.0" fill="#a8a8a8"/>
<line x1="724.2" y1="355.3" x2="732.9" y2="355.3" stroke="#141414" stroke-width="1.7"/>
<path d="M768.6999999999999,355.3 Q769.0,358.40000000000003 770.55,358.40000000000003 L772.95,358.40000000000003 Q774.5,358.40000000000003 774.8000000000001,355.3 Z" fill="none" stroke="#141414" stroke-width="1.0" fill="#a8a8a8"/>
<line x1="767.4" y1="355.3" x2="776.1" y2="355.3" stroke="#141414" stroke-width="1.7"/>
<line x1="735.5" y1="337.5" x2="735.5" y2="344.4" stroke="#141414" stroke-width="1.15"/>
<line x1="766" y1="337.5" x2="766" y2="344.4" stroke="#141414" stroke-width="1.15"/>
<line x1="736.9" y1="337.5" x2="736.9" y2="344.4" stroke="#141414" stroke-width="0.8"/>
<line x1="764.6" y1="337.5" x2="764.6" y2="344.4" stroke="#141414" stroke-width="0.8"/>
<line x1="734.6" y1="349.5" x2="734.6" y2="355.3" stroke="#141414" stroke-width="0.7"/>
<line x1="766.9" y1="349.5" x2="766.9" y2="355.3" stroke="#141414" stroke-width="0.7"/>
<path d="M735.5,349.5 L735.5,365.2 Q735.5,366.4 736.7,366.4 L764.8,366.4 Q766,366.4 766,365.2 L766,349.5" fill="none" stroke="#141414" stroke-width="1.25" />
<rect x="733.6" y="366.4" width="33.2" height="9.5" rx="1.5" fill="none" stroke="#141414" stroke-width="1.1"/>
<line x1="733.8" y1="382.6" x2="733.8" y2="414.8" stroke="#424242" stroke-width="1.2"/>
<line x1="767" y1="382.6" x2="767" y2="414.8" stroke="#424242" stroke-width="1.2"/>
<line x1="703.8" y1="406.3" x2="797.8" y2="406.3" stroke="#424242" stroke-width="1.2"/>
<polygon points="733.8,406.3 706.8,402.1 706.8,410.5" fill="#000"/>
<polygon points="767.0,406.3 794.0,402.1 794.0,410.5" fill="#000"/>
<g opacity="0.995">
<text transform="translate(200.6,48.4)" text-anchor="middle" font-size="18.3" style="letter-spacing:-0.35px">198</text>
<text transform="translate(53.4,270.9) rotate(-90)" text-anchor="middle" font-size="18.3" style="letter-spacing:-0.35px">140.5</text>
<text transform="translate(105.6,274.4) rotate(-90)" text-anchor="middle" font-size="18.3" style="letter-spacing:0.3px">118</text>
<text transform="translate(194.6,374.4)" text-anchor="middle" font-size="18.3" style="letter-spacing:-0.35px">150</text>
<text transform="translate(454.4,158.2)" text-anchor="middle" font-size="18.3" style="letter-spacing:-0.35px">76</text>
<text transform="translate(368.3,358)" text-anchor="middle" font-size="18.3" style="letter-spacing:-0.35px">Φ35</text>
<text transform="translate(608.5,223)" text-anchor="middle" font-size="18.3" style="letter-spacing:-0.35px">52</text>
<text transform="translate(541.2,312.9)" text-anchor="middle" font-size="18.3" style="letter-spacing:-0.35px">Φ35</text>
<text transform="translate(669,288.5) rotate(-90)" text-anchor="middle" font-size="18.3" style="letter-spacing:-0.35px">85</text>
<text transform="translate(750.9,37.5)" text-anchor="middle" font-size="18.3" style="letter-spacing:-0.35px">140</text>
<text transform="translate(866.3,202.2) rotate(-90)" text-anchor="middle" font-size="18.3" style="letter-spacing:-0.35px">272</text>
<text transform="translate(823,411.6)" text-anchor="middle" font-size="18.3" style="letter-spacing:-0.35px">Φ35</text>
</g>
</svg>
</body></html>
